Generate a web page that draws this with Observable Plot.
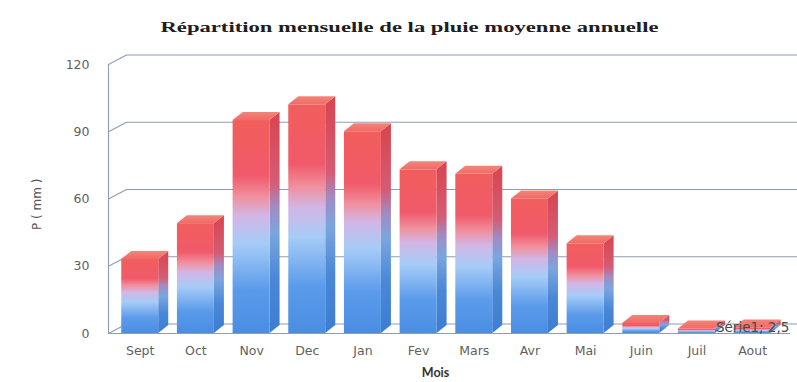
<!DOCTYPE html>
<html><head><meta charset="utf-8">
<script src="https://cdn.jsdelivr.net/npm/d3@7"></script>
<script src="https://cdn.jsdelivr.net/npm/@observablehq/plot@0.6"></script>
<style>
html,body{margin:0;padding:0;background:#fff;}
body{width:797px;height:382px;overflow:hidden;}
#title{box-sizing:border-box;height:45px;padding-top:17px;padding-left:21px;text-align:center;
  font:bold 14.5px "Liberation Serif", serif;line-height:20px;color:#1e1e1e;white-space:nowrap;}
#title span{display:inline-block;transform-origin:50% 50%;}
#chart svg{display:block;}
</style></head><body>
<svg width="0" height="0" style="position:absolute">
  <defs>
    <linearGradient id="gFront" x1="0" y1="1" x2="0" y2="0">
      <stop offset="0" stop-color="#4a8ee2"/>
      <stop offset="0.20" stop-color="#5a9aea"/>
      <stop offset="0.42" stop-color="#a6ccf7"/>
      <stop offset="0.55" stop-color="#d2b6e6"/>
      <stop offset="0.64" stop-color="#f0909e"/>
      <stop offset="0.74" stop-color="#f05a6a"/>
      <stop offset="1" stop-color="#f25e5c"/>
    </linearGradient>
    <linearGradient id="gSide" x1="0" y1="1" x2="0" y2="0">
      <stop offset="0" stop-color="#3c7dd0"/>
      <stop offset="0.25" stop-color="#4a88d6"/>
      <stop offset="0.45" stop-color="#7aa6df"/>
      <stop offset="0.57" stop-color="#a08cc4"/>
      <stop offset="0.68" stop-color="#d45c74"/>
      <stop offset="1" stop-color="#d8444f"/>
    </linearGradient>
    <linearGradient id="gTop" x1="0" y1="1" x2="0" y2="0">
      <stop offset="0" stop-color="#f06a66"/>
      <stop offset="1" stop-color="#f58478"/>
    </linearGradient>
  </defs>
</svg>
<div id="title"><span>Répartition mensuelle de la pluie moyenne annuelle</span></div>
<div id="chart"></div>
<script>
// ---- data ----
const months = ["Sept","Oct","Nov","Dec","Jan","Fev","Mars","Avr","Mai","Juin","Juil","Aout"];
const rain = [33, 49, 95, 102, 90, 73, 71, 60, 40, 4.5, 2, 2.5];
const yTicks = [0, 30, 60, 90, 120];
const seriesName = "Série1";
const labelledMonth = "Aout";
const yLabel = "P ( mm )";
const xLabel = "Mois";

// stretch the title to the reference's wide lettering
const tspan = document.querySelector("#title span");
tspan.style.transform = `scaleX(${498 / tspan.getBoundingClientRect().width})`;

// ---- geometry (in data units) ----
const xMin = -0.57, xMax = 11.68, wallRight = 11.81;
const half = 0.332;                   // half bar width
const depthX = 0.18, depthY = 3.57;   // bar depth
const wallX = 0.323, wallY = 4.24;    // back wall depth
const grid = "#8f9cb2";
const sans = "'DejaVu Sans', sans-serif";

const rows = months.map((m, i) => ({m, i, v: rain[i]}));
const sides = rows.flatMap(d => [
  {i: d.i, x: d.i + half, y1: 0, y2: d.v},
  {i: d.i, x: d.i + half + depthX, y1: depthY, y2: d.v + depthY}
]);
const tops = rows.flatMap(d => [
  {i: d.i, y: d.v, x1: d.i - half, x2: d.i + half},
  {i: d.i, y: d.v + depthY, x1: d.i - half + depthX, x2: d.i + half + depthX}
]);

const chart = Plot.plot({
  width: 797, height: 337,
  marginLeft: 108, marginRight: 7, marginTop: 19, marginBottom: 49,
  x: {domain: [xMin, xMax], axis: null},
  y: {domain: [0, 120], axis: null},
  style: {fontFamily: sans, background: "transparent"},
  marks: [
    // back wall gridlines
    Plot.ruleY(yTicks, {y: d => d + wallY, x1: xMin + wallX, x2: wallRight, stroke: grid, strokeWidth: 1.1}),
    // side wall diagonals
    Plot.link(yTicks, {x1: xMin, y1: d => d, x2: xMin + wallX, y2: d => d + wallY, stroke: grid, strokeWidth: 1.1}),
    // front axis line and floor front edge
    Plot.ruleX([xMin], {y1: 0, y2: 120, stroke: grid, strokeWidth: 1.1}),
    Plot.ruleY([0], {x1: xMin, x2: xMax, stroke: grid, strokeWidth: 1.1}),
    // bars: side, front, top
    Plot.area(sides, {x1: "x", y1: "y1", y2: "y2", z: "i", fill: "url(#gSide)"}),
    Plot.rect(rows, {x1: d => d.i - half, x2: d => d.i + half, y1: 0, y2: "v", fill: "url(#gFront)"}),
    Plot.area(tops, {y1: "y", x1: "x1", x2: "x2", z: "i", fill: "url(#gTop)"}),
    // tick labels
    Plot.text(yTicks, {y: d => d, text: d => String(d), frameAnchor: "left", textAnchor: "end", dx: -19, fontSize: 12.5, fill: "#5f5f5f"}),
    Plot.text(rows, {x: "i", text: "m", frameAnchor: "bottom", dy: 21, fontSize: 12.5, fill: "#5f5f5f"}),
    // axis titles
    Plot.text([yLabel], {text: d => d, frameAnchor: "left", rotate: -90, dx: -71, dy: 31, fontSize: 12, fill: "#555"}),
    Plot.text([xLabel], {text: d => d, frameAnchor: "bottom", dx: -14, dy: 43, fontSize: 12.5, fontWeight: "bold",
      fontFamily: "Lato, sans-serif", fill: "#333"}),
    // data label
    Plot.text(rows.filter(d => d.m === labelledMonth), {x: "i", y: "v",
      text: d => `${seriesName}; ${String(d.v).replace(".", ",")}`, fontSize: 13.5, fill: "#4a4a4a"})
  ]
});
document.getElementById("chart").appendChild(chart);
</script>
</body></html>
